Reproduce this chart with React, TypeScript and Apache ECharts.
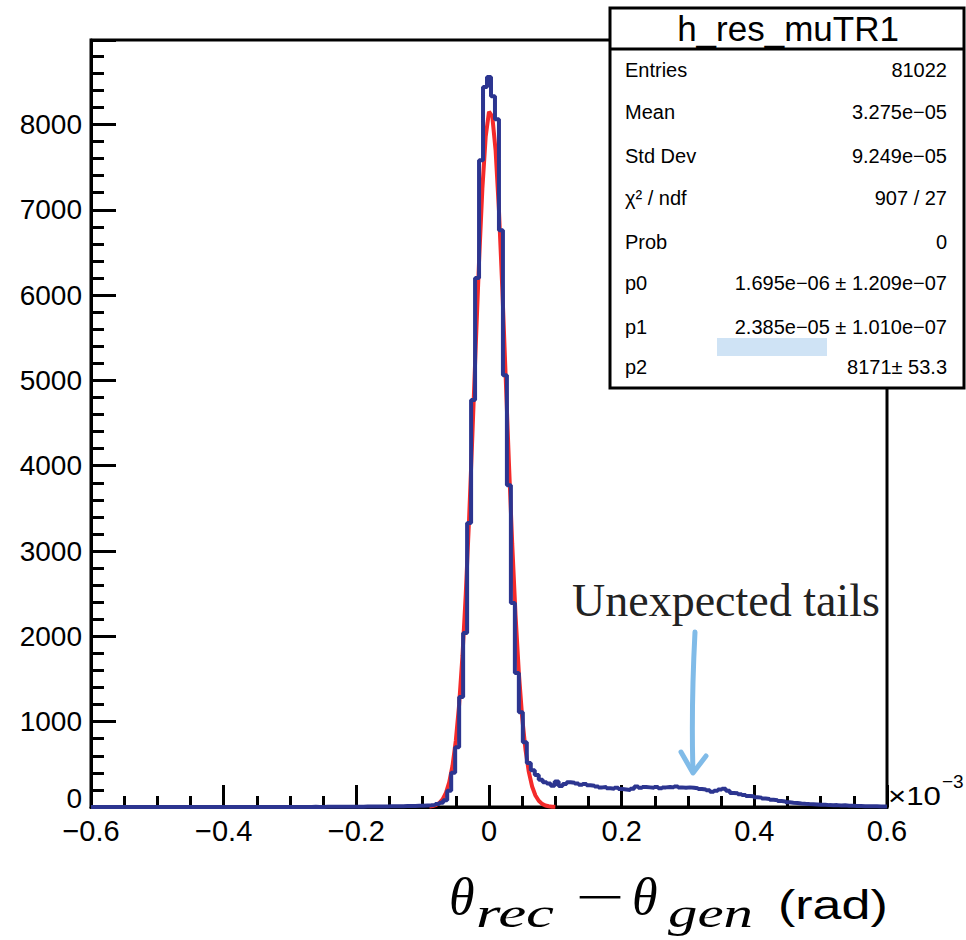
import React, { useEffect, useRef } from 'react';
import * as echarts from 'echarts';

// ---------- data ----------
const histName = 'h_res_muTR1';
const axisMin = -0.6;
const axisMax = 0.6;
const binLow = -0.597;
const binWidth = 0.006;
// bin contents, 200 bins (x10^-3 rad)
const counts = [
  0, 0, 0, 0, 0, 0, 0, 0, 0, 0,
  0, 0, 0, 0, 0, 0, 0, 0, 0, 0,
  0, 0, 0, 0, 0, 0, 0, 0, 0, 0,
  0, 0, 0, 0, 0, 0, 0, 0, 0, 0,
  0, 0, 0, 0, 0, 0, 0, 0, 0, 0,
  1, 0, 1, 1, 0, 2, 1, 1, 2, 2,
  2, 3, 2, 3, 3, 4, 3, 4, 5, 5,
  5, 6, 6, 7, 8, 8, 9, 10, 11, 12,
  13, 15, 16, 18, 20, 25, 35, 50, 80, 190,
  400, 700, 1290, 2040, 3330, 4770, 6200, 7580, 8440, 8555,
  8330, 8060, 6760, 5060, 3770, 2390, 1570, 1110, 760, 515,
  430, 375, 320, 290, 275, 250, 300, 245, 270, 290,
  285, 275, 260, 270, 255, 250, 240, 230, 235, 220,
  215, 225, 210, 205, 200, 215, 240, 225, 235, 230,
  225, 235, 220, 230, 235, 230, 240, 230, 225, 230,
  225, 220, 210, 205, 195, 180, 190, 205, 215, 190,
  165, 160, 150, 140, 130, 125, 115, 110, 100, 95,
  85, 80, 70, 65, 55, 50, 48, 42, 38, 35,
  33, 30, 27, 25, 22, 20, 22, 18, 20, 15,
  14, 12, 12, 10, 9, 8, 8, 6, 5, 5,
];
// gaussian fit curve
const fitX = [
  -0.09, -0.085, -0.08, -0.075, -0.07, -0.065, -0.06, -0.055, -0.05, -0.045,
  -0.04, -0.035, -0.03, -0.025, -0.02, -0.015, -0.01, -0.005, 0, 0.005,
  0.01, 0.015, 0.02, 0.025, 0.03, 0.035, 0.04, 0.045, 0.05, 0.055,
  0.06, 0.065, 0.07, 0.075, 0.08, 0.085, 0.09, 0.095, 0.1,
];
const fitY = [
  5, 11, 23, 46, 89, 164, 288, 484, 779, 1202,
  1773, 2500, 3379, 4369, 5401, 6396, 7244, 7855, 8150, 8093,
  7691, 6994, 6087, 5070, 4041, 3083, 2250, 1572, 1052, 673,
  412, 241, 135, 73, 37, 18, 9, 4, 2,
];
const statsLabels = ['Entries', 'Mean', 'Std Dev', 'χ² / ndf', 'Prob', 'p0', 'p1', 'p2'];
const statsValues = [
  '81022',
  '3.275e\u221205',
  '9.249e\u221205',
  '907 / 27',
  '0',
  '1.695e\u221206 \u00b1 1.209e\u221207',
  '2.385e\u221205 \u00b1 1.010e\u221207',
  '8171\u00b1 53.3',
];
const annotation = 'Unexpected tails';

export default function App() {
  const ref = useRef<HTMLDivElement>(null);
  useEffect(() => {
    if (!ref.current) return;
    const chart = echarts.init(ref.current, null, { renderer: 'svg' });

    const clampX = (x: number) => Math.min(axisMax, Math.max(axisMin, x));
    const histData: number[][] = counts.map((c, i) => [clampX(binLow + i * binWidth), c]);
    histData[0][0] = axisMin;
    histData.push([clampX(binLow + counts.length * binWidth), counts[counts.length - 1]]);
    const fitData = fitX.map((x, i) => [x, fitY[i]]);

    const sans = 'Liberation Sans, Arial, Helvetica, sans-serif';
    const serif = 'Liberation Serif, Times New Roman, serif';
    const rowY = [70, 112, 156, 198, 242, 283, 327, 367];

    const statsChildren: any[] = [
      { type: 'rect', shape: { x: 610, y: 8, width: 354, height: 380 }, style: { fill: '#fff', stroke: '#000', lineWidth: 3 } },
      { type: 'line', shape: { x1: 610, y1: 49, x2: 964, y2: 49 }, style: { stroke: '#000', lineWidth: 3 } },
      { type: 'text', x: 788, y: 28, style: { text: histName, fontSize: 35, fontFamily: sans, fill: '#000', align: 'center', verticalAlign: 'middle' } },
    ];
    statsLabels.forEach((l, i) => {
      statsChildren.push({ type: 'text', x: 625, y: rowY[i], style: { text: l, fontSize: 20, fontFamily: sans, fill: '#000', align: 'left', verticalAlign: 'middle' } });
      statsChildren.push({ type: 'text', x: 947, y: rowY[i], style: { text: statsValues[i], fontSize: 20, fontFamily: sans, fill: '#000', align: 'right', verticalAlign: 'middle' } });
    });
    statsChildren.push({ type: 'rect', shape: { x: 717, y: 338, width: 110, height: 18 }, style: { fill: '#cfe3f5' } });

    const titleParts = [
      { text: 'θ', x: 449, y: 896, size: 52, family: serif, italic: true, sx: 1 },
      { text: 'rec', x: 476, y: 913, size: 42, family: serif, italic: true, sx: 1.5 },
      { text: '\u2212', x: 575, y: 897, size: 50, family: serif, italic: false, sx: 1.75 },
      { text: 'θ', x: 632, y: 896, size: 52, family: serif, italic: true, sx: 1 },
      { text: 'gen', x: 668, y: 913, size: 42, family: serif, italic: true, sx: 1.4 },
      { text: '(rad)', x: 778, y: 905, size: 40, family: sans, italic: false, sx: 1.3 },
    ];

    const graphic: any[] = [
      { type: 'group', z: 10, children: statsChildren },
      { type: 'text', x: 572, y: 600, z: 10, style: { text: annotation, fontSize: 46, fontFamily: serif, fill: '#222', align: 'left', verticalAlign: 'middle' } },
      { type: 'bezierCurve', z: 10, shape: { x1: 695, y1: 632, cpx1: 692, cpy1: 690, cpx2: 692, cpy2: 740, x2: 693, y2: 772 }, style: { stroke: '#80bbe8', lineWidth: 5, lineCap: 'round', fill: 'none' } },
      { type: 'polyline', z: 10, shape: { points: [[681, 752], [693, 773], [706, 756]] }, style: { stroke: '#80bbe8', lineWidth: 5, lineCap: 'round', lineJoin: 'round', fill: 'none' } },
      { type: 'text', x: 888, y: 796, z: 10, scaleX: 1.2, style: { text: '\u00d710', fontSize: 26, fontFamily: sans, fill: '#000', align: 'left', verticalAlign: 'middle' } },
      { type: 'text', x: 942, y: 781, z: 10, style: { text: '\u22123', fontSize: 19, fontFamily: sans, fill: '#000', align: 'left', verticalAlign: 'middle' } },
      ...titleParts.map((p) => ({
        type: 'text', x: p.x, y: p.y, z: 10, scaleX: p.sx,
        style: { text: p.text, fontSize: p.size, fontFamily: p.family, fontStyle: p.italic ? 'italic' : 'normal', fill: '#000', align: 'left', verticalAlign: 'middle' },
      })),
    ];

    chart.setOption({
      animation: false,
      backgroundColor: '#fff',
      grid: { left: 91, right: 79, top: 40, bottom: 133, show: true, borderColor: '#000', borderWidth: 3, backgroundColor: 'transparent', outerBoundsMode: 'none' },
      xAxis: {
        type: 'value', min: axisMin, max: axisMax, interval: 0.2,
        axisLine: { show: true, onZero: false, lineStyle: { color: '#000', width: 3 } },
        axisTick: { show: true, inside: true, length: 22, lineStyle: { color: '#000', width: 3 } },
        minorTick: { show: true, splitNumber: 4, length: 11, lineStyle: { color: '#000', width: 3 } },
        splitLine: { show: false },
        axisLabel: {
          fontSize: 29, color: '#000', fontFamily: sans, margin: 12, lineHeight: 24,
          formatter: (v: number) => (Math.abs(v) < 1e-9 ? '0' : v.toFixed(1).replace('-', '\u2212')),
        },
      },
      yAxis: {
        type: 'value', min: 0, max: 8990, interval: 1000,
        axisLine: { show: true, onZero: false, lineStyle: { color: '#000', width: 3 } },
        axisTick: { show: true, inside: true, length: 25, lineStyle: { color: '#000', width: 3 } },
        minorTick: { show: true, splitNumber: 5, length: 13, lineStyle: { color: '#000', width: 3 } },
        splitLine: { show: false },
        axisLabel: {
          fontSize: 28, color: '#000', fontFamily: sans, margin: 9, lineHeight: 18, showMaxLabel: false,
          formatter: (v: number) => (v === 0 ? '{z|0}' : v % 1000 === 0 ? String(v) : ''),
          rich: { z: { fontSize: 28, fontFamily: sans, color: '#000', lineHeight: 18, padding: [0, 0, 18, 0] } },
        },
      },
      series: [
        {
          type: 'line', name: 'fit', data: fitData, showSymbol: false, clip: false, z: 2,
          lineStyle: { color: '#f42a2a', width: 4 },
        },
        {
          type: 'line', name: histName, data: histData, step: 'end', showSymbol: false, clip: false, z: 3,
          lineStyle: { color: '#2c3590', width: 4 },
        },
      ],
      graphic,
    });
    return () => chart.dispose();
  }, []);
  return <div ref={ref} style={{ position: 'absolute', left: 0, top: 0, width: 966, height: 940 }} />;
}
